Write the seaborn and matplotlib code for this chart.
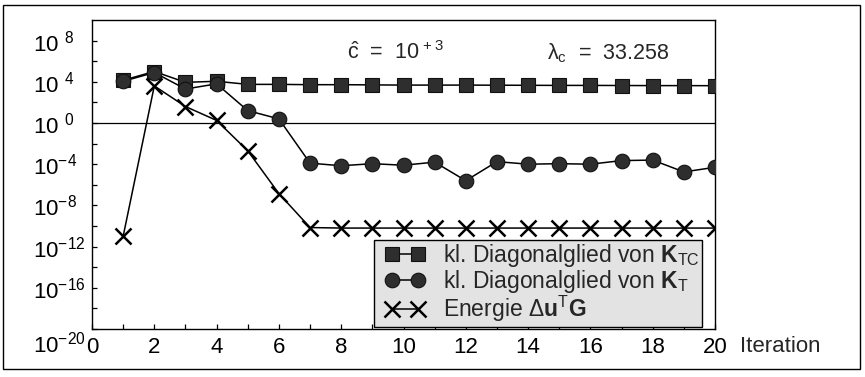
import numpy as np
import pandas as pd
import matplotlib
matplotlib.use("Agg")
import matplotlib.pyplot as plt
from matplotlib.ticker import FixedLocator, FixedFormatter, NullFormatter
from matplotlib.patches import Rectangle
from matplotlib.transforms import ScaledTranslation
from matplotlib.lines import Line2D
from matplotlib.legend_handler import HandlerLine2D
import seaborn as sns

# Iteration numbers
iterations = list(range(1, 21))

# log10 of the smallest diagonal entry of K_TC (squares)
ktc_log10 = [4.15, 5.0, 3.95, 4.05, 3.75, 3.75, 3.72, 3.72, 3.70, 3.68,
             3.68, 3.68, 3.67, 3.66, 3.65, 3.65, 3.64, 3.63, 3.63, 3.62]

# log10 of the smallest diagonal entry of K_T (circles)
kt_log10 = [4.05, 4.9, 3.3, 3.8, 1.2, 0.4, -3.9, -4.15, -3.95, -4.1,
            -3.8, -5.6, -3.75, -4.0, -3.95, -4.0, -3.65, -3.6, -4.75, -4.3]

# log10 of the energy norm du^T G (crosses)
energy_log10 = [-11.0, 3.6, 1.6, 0.25, -2.7, -6.85, -10.15, -10.2, -10.2, -10.2,
                -10.2, -10.2, -10.2, -10.2, -10.2, -10.2, -10.2, -10.2, -10.2, -10.2]

series_labels = [
    r"kl. Diagonalglied von $\mathbf{K}_{\mathrm{TC}}$",
    r"kl. Diagonalglied von $\mathbf{K}_{\mathrm{T}}$",
    r"Energie $\Delta\mathbf{u}^{\mathrm{T}}\mathbf{G}$",
]

xtick_values = list(range(0, 21, 2))
xtick_minor = list(range(1, 21, 2))
ytick_exponents = [-20, -16, -12, -8, -4, 0, 4, 8]
ytick_minor_exponents = [-18, -14, -10, -6, -2, 2, 6]
ytick_labels = [r"10$^{-20}$", r"10$^{-16}$", r"10$^{-12}$", r"10$^{-8}$",
                r"10$^{-4}$", r"10$^{\ \,0}$", r"10$^{\ \,4}$", r"10$^{\ \,8}$"]

c_hat_text = r"$\hat{\mathrm{c}}$  =  10$^{\,+3}$"
lambda_text = r"λ$_{\mathrm{c}}$  =  33.258"

sns.set_style("ticks")
plt.rcParams["font.family"] = ["Liberation Sans", "DejaVu Sans"]
plt.rcParams["mathtext.fontset"] = "custom"
plt.rcParams["mathtext.rm"] = "Liberation Sans"
plt.rcParams["mathtext.it"] = "Liberation Sans:italic"
plt.rcParams["mathtext.bf"] = "Liberation Sans:bold"
plt.rcParams["axes.edgecolor"] = "black"
plt.rcParams["axes.linewidth"] = 1.0

df = pd.DataFrame({
    "Iteration": iterations * 3,
    "value": np.concatenate([10.0 ** np.array(ktc_log10),
                             10.0 ** np.array(kt_log10),
                             10.0 ** np.array(energy_log10)]),
    "series": np.repeat(series_labels, len(iterations)),
})

fig = plt.figure(figsize=(8.65, 3.77), dpi=100)
ax = fig.add_axes([92 / 865, 1 - 329 / 377, 623 / 865, 309 / 377])

ax.axhline(1.0, color="black", lw=0.9, zorder=1)

styles = [
    dict(marker="s", markersize=9.5, markerfacecolor="#2e2e2e", markeredgecolor="#111111",
         markeredgewidth=0.8),
    dict(marker="o", markersize=10.5, markerfacecolor="#2e2e2e", markeredgecolor="#111111",
         markeredgewidth=0.8),
    dict(marker="x", markersize=12, markeredgecolor="black", markeredgewidth=1.8),
]
for label, st in zip(series_labels, styles):
    sub = df[df["series"] == label]
    sns.lineplot(data=sub, x="Iteration", y="value", ax=ax, color="black", lw=1.1,
                 label=label, zorder=3, **st)

ax.set_yscale("log")
ax.set_xlim(0, 20)
ax.set_ylim(1e-20, 1e10)

ax.xaxis.set_major_locator(FixedLocator(xtick_values))
ax.xaxis.set_minor_locator(FixedLocator(xtick_minor))
ax.set_xticklabels([str(v) for v in xtick_values])
ax.yaxis.set_major_locator(FixedLocator([10.0 ** e for e in ytick_exponents]))
ax.yaxis.set_major_formatter(FixedFormatter(ytick_labels))
ax.yaxis.set_minor_locator(FixedLocator([10.0 ** e for e in ytick_minor_exponents]))
ax.yaxis.set_minor_formatter(NullFormatter())

ax.tick_params(axis="both", which="both", direction="in", length=3.5, width=0.9,
               color="black", labelsize=16, labelcolor="black")
ax.tick_params(axis="x", which="major", pad=5.5)
ax.tick_params(axis="y", which="major", pad=42.5)
for lab in ax.get_yticklabels():
    lab.set_horizontalalignment("left")
# the lowest decade label sits on the same line as the iteration numbers
bottom_label = ax.get_yticklabels()[0]
bottom_label.set_verticalalignment("top")
bottom_label.set_transform(bottom_label.get_transform()
                           + ScaledTranslation(0, -3 / 100, fig.dpi_scale_trans))

ax.set_ylabel("")
ax.set_xlabel("Iteration", fontsize=16, ha="left", va="top")
ax.xaxis.set_label_coords((740 - 92) / 623, -0.023)

ax.text((347 - 92) / 623, 0.895, c_hat_text, transform=ax.transAxes,
        fontsize=15.5, va="center", ha="left")
ax.text((547 - 92) / 623, 0.893, lambda_text, transform=ax.transAxes,
        fontsize=15.5, va="center", ha="left")

leg = ax.legend(loc="lower right", bbox_to_anchor=(0.979, 0.008), borderaxespad=0,
                fontsize=16.5, frameon=True, fancybox=False, framealpha=1,
                facecolor="#e3e3e3", edgecolor="black", handlelength=2.5,
                handletextpad=0.4, labelspacing=-0.04, borderpad=0.1,
                handler_map={Line2D: HandlerLine2D(marker_pad=0.7, numpoints=2)})
leg.get_frame().set_linewidth(1.0)

fig.patches.append(Rectangle((3 / 865, 1 - 369 / 377), 857 / 865, 364 / 377,
                             transform=fig.transFigure, fill=False,
                             edgecolor="black", lw=1.0))

fig.savefig("out.png", dpi=100)
